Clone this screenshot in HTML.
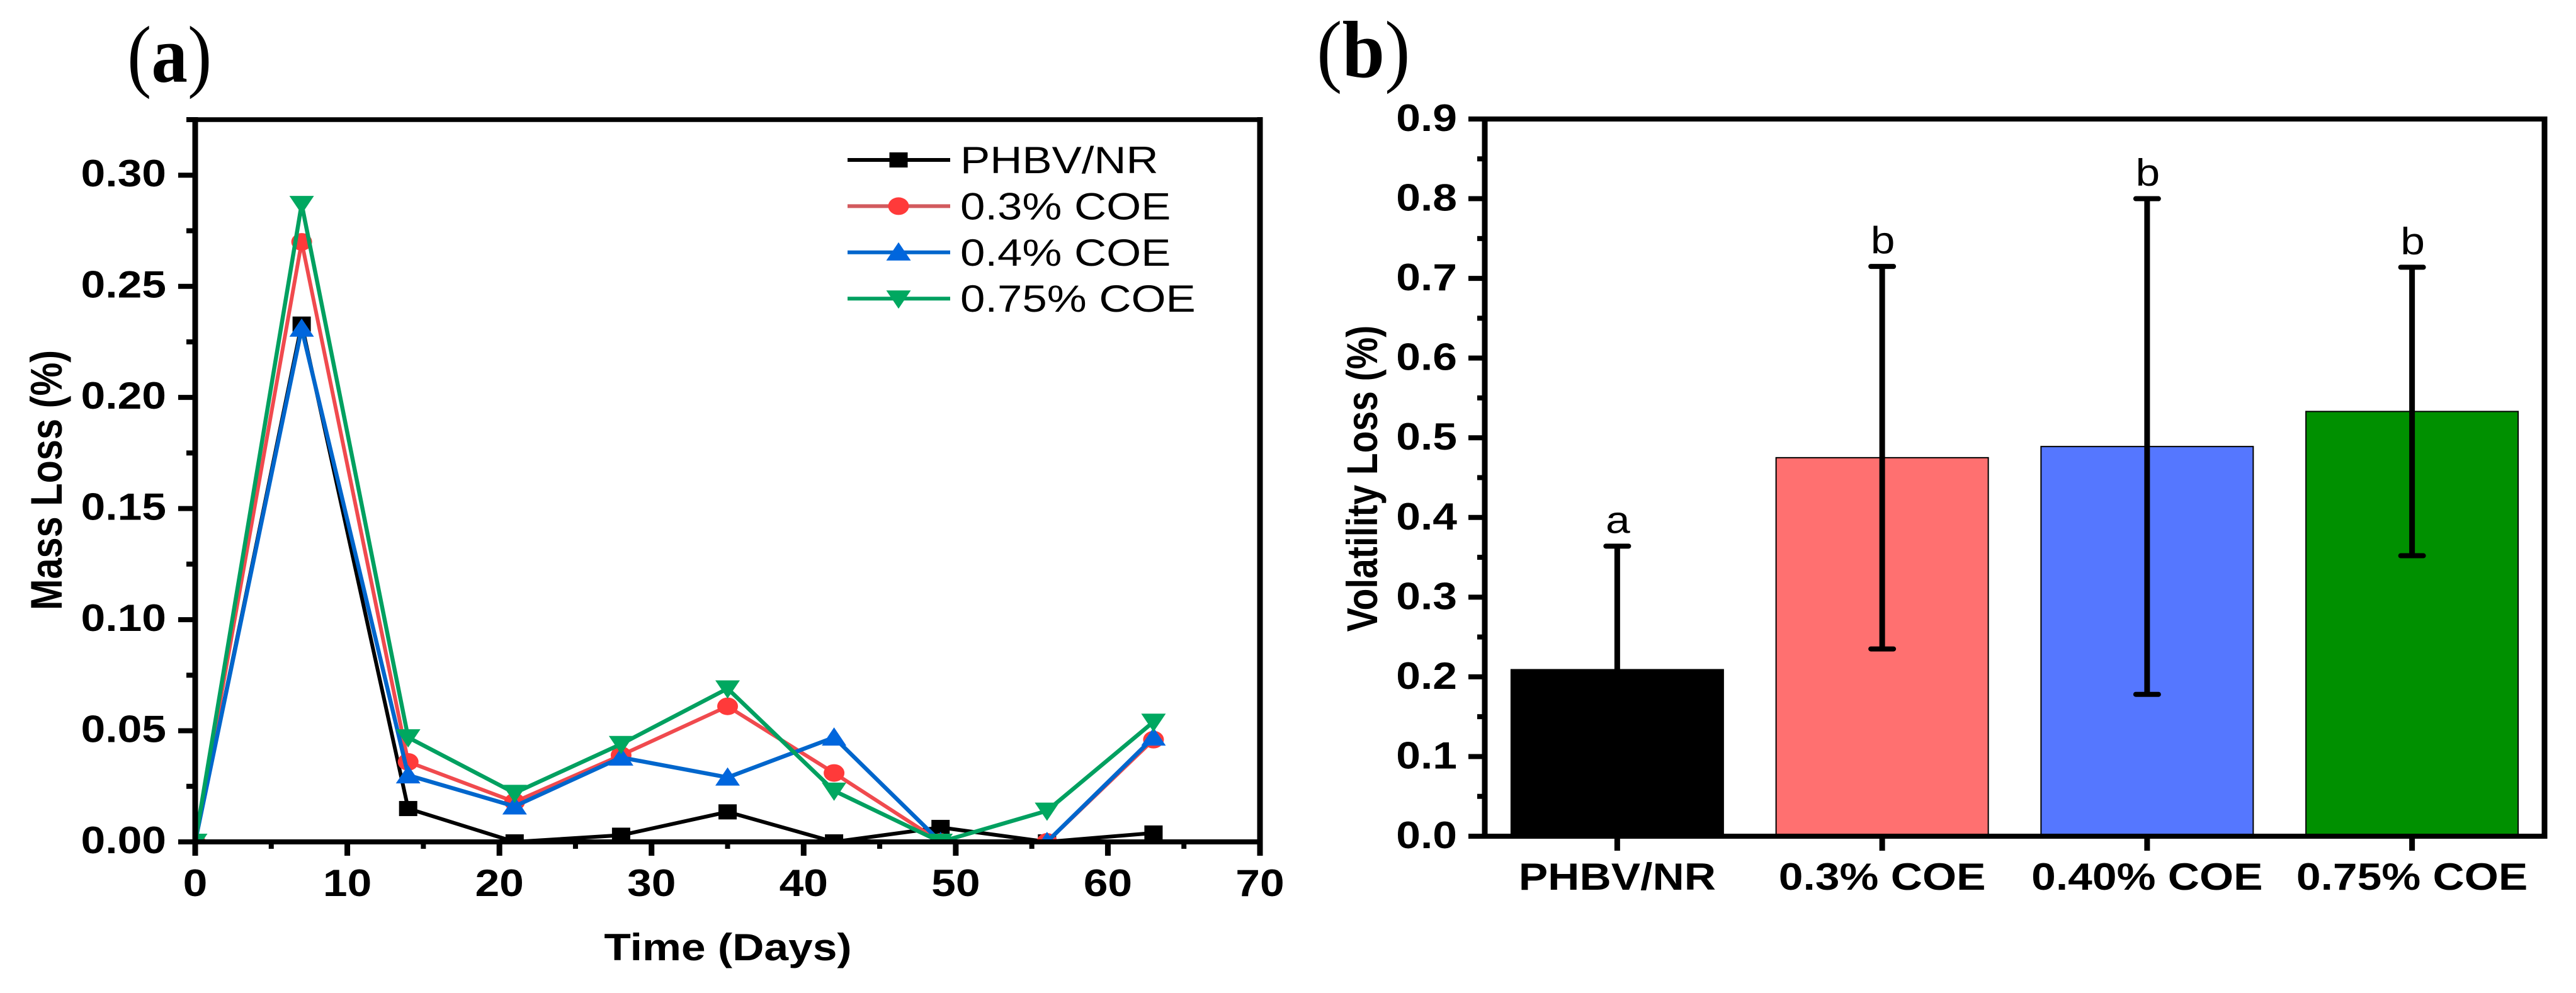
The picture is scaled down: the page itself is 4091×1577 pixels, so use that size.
<!DOCTYPE html>
<html lang="en">
<head>
<meta charset="utf-8">
<title>Mass loss and volatility loss charts</title>
<style>
html,body{margin:0;padding:0;background:#fff;width:4091px;height:1577px;overflow:hidden}
svg{display:block}
text{font-family:"Liberation Sans",sans-serif;fill:#000}
</style>
</head>
<body>
<svg id="figure" xmlns="http://www.w3.org/2000/svg" width="4091" height="1577" viewBox="0 0 4091 1577">
  <rect x="0" y="0" width="4091" height="1577" fill="#fff"/>
  <defs>
    <clipPath id="plot-clip"><rect x="310" y="190" width="1691" height="1147"/></clipPath>
  </defs>
  <g id="panel-a"></g>
  <g id="panel-b"></g>
  <text transform="translate(202 130) scale(0.9 1)" font-size="128" style="font-family:'Liberation Serif',serif">(<tspan font-weight="bold">a</tspan>)</text>
  <text transform="translate(2091 122) scale(0.95 1)" font-size="128" style="font-family:'Liberation Serif',serif">(<tspan font-weight="bold">b</tspan>)</text>
</svg>
<script>
// Panel (a) data
const days = [0, 7, 14, 21, 28, 35, 42, 49, 56, 63];
const phbvValues = [0, 0.233, 0.015, 0, 0.003, 0.0135, 0, 0.0065, 0, 0.004];
const coe03Values = [0, 0.270, 0.036, 0.018, 0.039, 0.061, 0.031, 0, 0, 0.046];
const coe04Values = [0, 0.231, 0.030, 0.016, 0.038, 0.029, 0.047, 0, 0, 0.047];
const coe075Values = [0, 0.287, 0.047, 0.022, 0.044, 0.069, 0.023, 0, 0.014, 0.054];
const massTickLabels = ['0.00', '0.05', '0.10', '0.15', '0.20', '0.25', '0.30'];
const massTickValues = [0, 0.05, 0.10, 0.15, 0.20, 0.25, 0.30];
const massMinorTicks = [0.025, 0.075, 0.125, 0.175, 0.225, 0.275, 0.325];
const timeTickValues = [0, 10, 20, 30, 40, 50, 60, 70];
const timeMinorTicks = [5, 15, 25, 35, 45, 55, 65];
const legendLabels = ['PHBV/NR', '0.3% COE', '0.4% COE', '0.75% COE'];

// Panel (b) data
const categories = ['PHBV/NR', '0.3% COE', '0.40% COE', '0.75% COE'];
const volatilityMeans = [0.209, 0.475, 0.489, 0.533];
const volatilityErrors = [0.155, 0.240, 0.311, 0.181];
const significanceLetters = ['a', 'b', 'b', 'b'];
const volatilityTickValues = [0, 0.1, 0.2, 0.3, 0.4, 0.5, 0.6, 0.7, 0.8, 0.9];
const volatilityMinorTicks = [0.05, 0.15, 0.25, 0.35, 0.45, 0.55, 0.65, 0.75, 0.85];

const NS = 'http://www.w3.org/2000/svg';
const TEXT_STRETCH = 1.16;
const panelA = document.getElementById('panel-a');
const panelB = document.getElementById('panel-b');

function make(parent, tag, attrs) {
  const node = document.createElementNS(NS, tag);
  for (const key in attrs) node.setAttribute(key, attrs[key]);
  parent.appendChild(node);
  return node;
}
function line(parent, x1, y1, x2, y2, color, width) {
  return make(parent, 'line', {x1, y1, x2, y2, stroke: color, 'stroke-width': width});
}
function label(parent, str, x, y, size, weight, anchor, rotated, stretch) {
  const t = make(parent, 'text', {
    'font-size': size,
    'font-weight': weight,
    'text-anchor': anchor,
    transform: 'translate(' + x + ' ' + y + ') scale(' + (stretch || TEXT_STRETCH) + ' 1)' + (rotated ? ' rotate(-90)' : '')
  });
  t.textContent = str;
  return t;
}
function marker(parent, kind, cx, cy, color) {
  if (kind === 'square') {
    return make(parent, 'rect', {x: cx - 14.5, y: cy - 12, width: 29, height: 24, fill: color});
  }
  if (kind === 'circle') {
    return make(parent, 'ellipse', {cx, cy, rx: 16.5, ry: 14, fill: color});
  }
  if (kind === 'up') {
    return make(parent, 'polygon', {points: (cx - 19.5) + ',' + (cy + 13) + ' ' + (cx + 19.5) + ',' + (cy + 13) + ' ' + cx + ',' + (cy - 16), fill: color});
  }
  return make(parent, 'polygon', {points: (cx - 19.5) + ',' + (cy - 13) + ' ' + (cx + 19.5) + ',' + (cy - 13) + ' ' + cx + ',' + (cy + 16), fill: color});
}

/* ---------- Panel (a) ---------- */
function xTime(v) { return 310 + v * (2001 - 310) / 70; }
function yMass(v) { return 1337 - v * (1337 - 190) / 0.325; }

const seriesList = [
  {name: 'phbv-nr', values: phbvValues, color: '#000000', markerColor: '#000000', kind: 'square', width: 6},
  {name: 'coe-0-3', values: coe03Values, color: '#F04A4E', markerColor: '#FF3A3A', kind: 'circle', width: 6},
  {name: 'coe-0-4', values: coe04Values, color: '#0066CC', markerColor: '#0066DD', kind: 'up', width: 6.5},
  {name: 'coe-0-75', values: coe075Values, color: '#00A060', markerColor: '#00A860', kind: 'down', width: 6.5}
];

const dataLayer = make(panelA, 'g', {'clip-path': 'url(#plot-clip)'});


seriesList.forEach(function (s) {
  const g = make(dataLayer, 'g', {});
  
  
  const pts = s.values.map(function (v, i) { return xTime(days[i]) + ',' + yMass(v); }).join(' ');
  const path = make(g, 'polyline', {points: pts, fill: 'none', stroke: s.color, 'stroke-width': s.width, 'stroke-linejoin': 'miter'});
  
  
  s.values.forEach(function (v, i) {
    const m = marker(g, s.kind, xTime(days[i]), yMass(v), s.markerColor);
    
    
  });
});

const axesA = make(panelA, 'g', {});


const frameLeftA = line(axesA, 310, 186, 310, 1359, '#000', 9);


const frameRightA = line(axesA, 2001, 186, 2001, 1359, '#000', 9);


const frameTopA = line(axesA, 296, 190, 2005, 190, '#000', 7.5);


const frameBottomA = line(axesA, 283, 1337, 2005, 1337, '#000', 8);



massTickValues.forEach(function (v, i) {
  const tick = line(axesA, 283, yMass(v), 310, yMass(v), '#000', 8);
  
  
  const t = label(axesA, massTickLabels[i], 264, yMass(v) + 18, 60, 'bold', 'end', false);
  
  
});
massMinorTicks.forEach(function (v) {
  const tick = line(axesA, 296, yMass(v), 310, yMass(v), '#000', 8);
  
  
});
timeTickValues.forEach(function (v) {
  const tick = line(axesA, xTime(v), 1337, xTime(v), 1359, '#000', 9);
  
  
  const t = label(axesA, String(v), xTime(v), 1423, 60, 'bold', 'middle', false);
  
  
});
timeMinorTicks.forEach(function (v) {
  const tick = line(axesA, xTime(v), 1337, xTime(v), 1348, '#000', 8);
  
  
});

const xTitleA = label(panelA, 'Time (Days)', 1156, 1525, 60, 'bold', 'middle', false);


const yTitleA = label(panelA, 'Mass Loss (%)', 98, 762.5, 59.5, 'bold', 'middle', true, 1.19);



const legendGroup = make(panelA, 'g', {});


const legendLineColors = ['#000000', '#D25A5E', '#0066CC', '#00A060'];
seriesList.forEach(function (s, i) {
  const y = 254 + i * 73.4;
  const entry = make(legendGroup, 'g', {});
  
  
  line(entry, 1346, y, 1509, y, legendLineColors[i], 6);
  marker(entry, s.kind, 1427, y, s.markerColor);
  label(entry, legendLabels[i], 1525, y + 21, 60, 'normal', 'start', false, 1.18);
});

/* ---------- Panel (b) ---------- */
function xCategory(i) { return 2358 + (i + 0.5) * (4041 - 2358) / categories.length; }
function yVolatility(v) { return 1328 - v * (1328 - 189) / 0.9; }
const barWidth = 337;
const barColors = ['#000000', '#FF7070', '#5577FF', '#009000'];

const barLayer = make(panelB, 'g', {});


volatilityMeans.forEach(function (v, i) {
  const bar = make(barLayer, 'rect', {
    x: xCategory(i) - barWidth / 2,
    y: yVolatility(v),
    width: barWidth,
    height: yVolatility(0) - yVolatility(v),
    fill: barColors[i],
    stroke: '#000',
    'stroke-width': 2
  });
  
  
});
volatilityMeans.forEach(function (v, i) {
  const g = make(barLayer, 'g', {});
  
  
  const cx = xCategory(i);
  const top = yVolatility(v + volatilityErrors[i]);
  const bottom = yVolatility(v - volatilityErrors[i]);
  line(g, cx, top, cx, bottom, '#000', 9);
  make(g, 'line', {x1: cx - 18, y1: top, x2: cx + 18, y2: top, stroke: '#000', 'stroke-width': 8, 'stroke-linecap': 'round'});
  make(g, 'line', {x1: cx - 18, y1: bottom, x2: cx + 18, y2: bottom, stroke: '#000', 'stroke-width': 8, 'stroke-linecap': 'round'});
  const letter = label(g, significanceLetters[i], cx + 1, top - 21, 60, 'normal', 'middle', false);
  
  
});

const axesB = make(panelB, 'g', {});


const frameLeftB = line(axesB, 2358, 185, 2358, 1332, '#000', 9);


const frameRightB = line(axesB, 4041, 185, 4041, 1332, '#000', 9);


const frameTopB = line(axesB, 2332, 189, 4045.5, 189, '#000', 8);


const frameBottomB = line(axesB, 2332, 1328, 4045.5, 1328, '#000', 8);



volatilityTickValues.forEach(function (v) {
  const tick = line(axesB, 2332, yVolatility(v), 2358, yVolatility(v), '#000', 8);
  
  
  const t = label(axesB, v.toFixed(1), 2314, yVolatility(v) + 19, 60, 'bold', 'end', false);
  
  
});
volatilityMinorTicks.forEach(function (v) {
  const tick = line(axesB, 2346, yVolatility(v), 2358, yVolatility(v), '#000', 8);
  
  
});
categories.forEach(function (c, i) {
  const tick = line(axesB, xCategory(i), 1328, xCategory(i), 1351, '#000', 9);
  
  
  const t = label(axesB, c, xCategory(i), 1413, 60, 'bold', 'middle', false);
  
  
});

const yTitleB = label(panelB, 'Volatility Loss (%)', 2187, 760, 57, 'bold', 'middle', true, 1.2);


</script>
</body>
</html>
